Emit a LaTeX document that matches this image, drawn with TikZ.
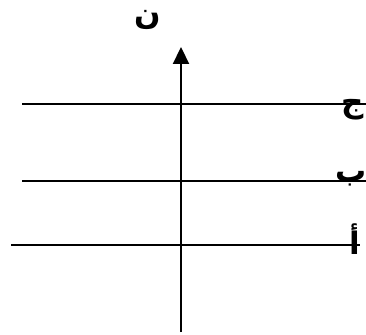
\documentclass[tikz,border=0pt]{standalone}
\usepackage{fontspec}
\TeXXeTstate=1
\newfontfamily\arabicfont[Script=Arabic]{DejaVu Sans}
\newcommand{\arlbl}[1]{\arabicfont\bfseries\fontsize{31}{35}\selectfont\beginR #1\endR}
\usetikzlibrary{arrows.meta}
\begin{document}
\begin{tikzpicture}[x=1pt,y=1pt,
  hline/.style={line width=2pt},
  axis/.style={line width=2.2pt,-{Triangle[length=17pt,width=16pt]}},
  lbl/.style={inner sep=0pt}]
\useasboundingbox (0,0) rectangle (366,334);
% horizontal lines
\coordinate (c1) at (22,230);
\coordinate (c2) at (366,230);
\coordinate (b1) at (22,153);
\coordinate (b2) at (366,153);
\coordinate (a1) at (11,89);
\coordinate (a2) at (360,89);
\draw[hline] (c1) -- (c2);
\draw[hline] (b1) -- (b2);
\draw[hline] (a1) -- (a2);
% vertical axis
\coordinate (v0) at (181,2);
\coordinate (v1) at (181,287);
\draw[axis] (v0) -- (v1);
% labels
\node[lbl] (n) at (148,314) {\arlbl{ن}};
\node[lbl] (j) at (353,224) {\arlbl{ج}};
\node[lbl] (bb) at (351,155) {\arlbl{ب}};
\node[lbl] (aa) at (355,95) {\arlbl{أ}};
\end{tikzpicture}
\end{document}
